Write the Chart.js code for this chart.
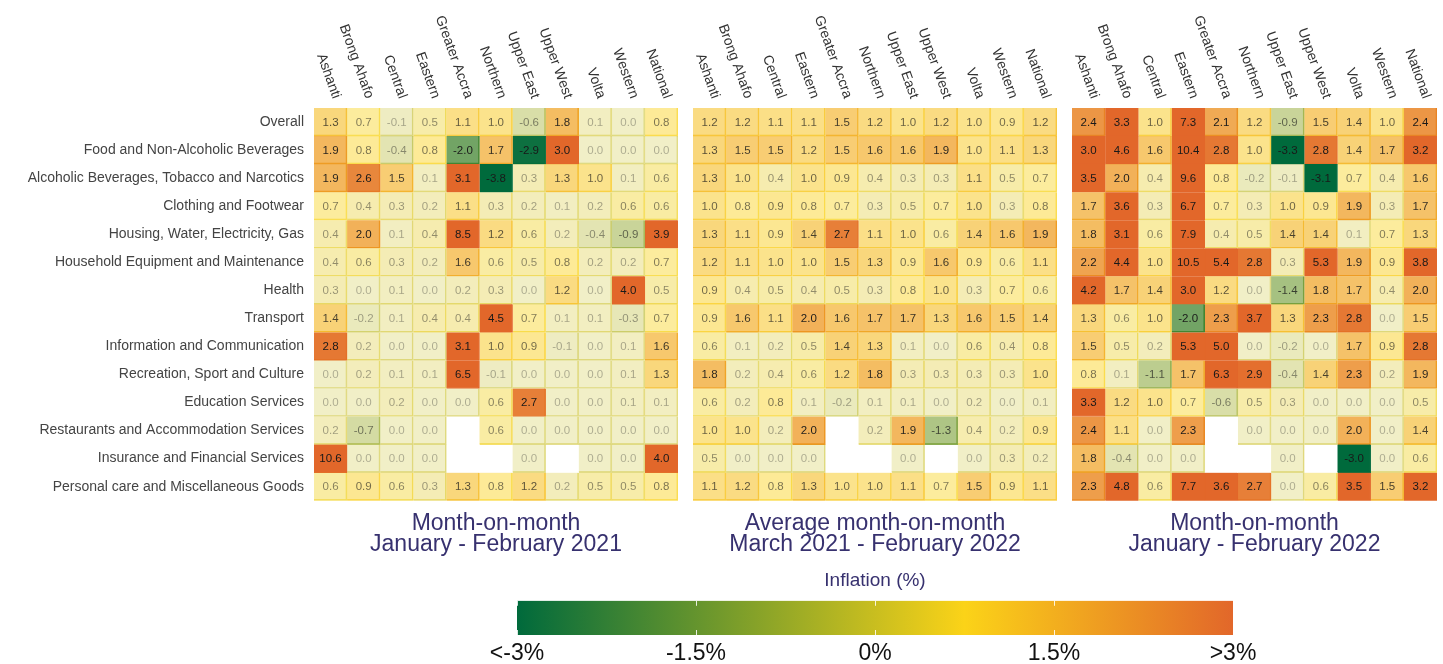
<!DOCTYPE html>
<html>
<head>
<meta charset="utf-8">
<script src="https://cdn.jsdelivr.net/npm/chart.js@4.4.1/dist/chart.umd.min.js"></script>
<style>
  body { margin: 0; background: #fff; width: 1443px; height: 664px; overflow: hidden; position: relative; }
  .box { position: absolute; }
</style>
</head>
<body>
<div class="box" style="left:0;top:0;width:682px;height:560px"><canvas id="p1"></canvas></div>
<div class="box" style="left:682px;top:0;width:380px;height:560px"><canvas id="p2"></canvas></div>
<div class="box" style="left:1062px;top:0;width:381px;height:560px"><canvas id="p3"></canvas></div>
<div class="box" style="left:480px;top:560px;width:800px;height:104px"><canvas id="legend"></canvas></div>
<script>
const regions = ['Ashanti', 'Brong Ahafo', 'Central', 'Eastern', 'Greater Accra', 'Northern',
  'Upper East', 'Upper West', 'Volta', 'Western', 'National'];

const categories = ['Overall', 'Food and Non-Alcoholic Beverages', 'Alcoholic Beverages, Tobacco and Narcotics',
  'Clothing and Footwear', 'Housing, Water, Electricity, Gas', 'Household Equipment and Maintenance',
  'Health', 'Transport', 'Information and Communication', 'Recreation, Sport and Culture',
  'Education Services', 'Restaurants and Accommodation Services', 'Insurance and Financial Services',
  'Personal care and Miscellaneous Goods'];

// month-on-month, Jan - Feb 2021 (rows = categories, cols = regions)
const mom2021 = [
  [1.3, 0.7, -0.1, 0.5, 1.1, 1.0, -0.6, 1.8, 0.1, 0.0, 0.8],
  [1.9, 0.8, -0.4, 0.8, -2.0, 1.7, -2.9, 3.0, 0.0, 0.0, 0.0],
  [1.9, 2.6, 1.5, 0.1, 3.1, -3.8, 0.3, 1.3, 1.0, 0.1, 0.6],
  [0.7, 0.4, 0.3, 0.2, 1.1, 0.3, 0.2, 0.1, 0.2, 0.6, 0.6],
  [0.4, 2.0, 0.1, 0.4, 8.5, 1.2, 0.6, 0.2, -0.4, -0.9, 3.9],
  [0.4, 0.6, 0.3, 0.2, 1.6, 0.6, 0.5, 0.8, 0.2, 0.2, 0.7],
  [0.3, 0.0, 0.1, 0.0, 0.2, 0.3, 0.0, 1.2, 0.0, 4.0, 0.5],
  [1.4, -0.2, 0.1, 0.4, 0.4, 4.5, 0.7, 0.1, 0.1, -0.3, 0.7],
  [2.8, 0.2, 0.0, 0.0, 3.1, 1.0, 0.9, -0.1, 0.0, 0.1, 1.6],
  [0.0, 0.2, 0.1, 0.1, 6.5, -0.1, 0.0, 0.0, 0.0, 0.1, 1.3],
  [0.0, 0.0, 0.2, 0.0, 0.0, 0.6, 2.7, 0.0, 0.0, 0.1, 0.1],
  [0.2, -0.7, 0.0, 0.0, null, 0.6, 0.0, 0.0, 0.0, 0.0, 0.0],
  [10.6, 0.0, 0.0, 0.0, null, null, 0.0, null, 0.0, 0.0, 4.0],
  [0.6, 0.9, 0.6, 0.3, 1.3, 0.8, 1.2, 0.2, 0.5, 0.5, 0.8]
];

// average month-on-month, Mar 2021 - Feb 2022
const avgMom = [
  [1.2, 1.2, 1.1, 1.1, 1.5, 1.2, 1.0, 1.2, 1.0, 0.9, 1.2],
  [1.3, 1.5, 1.5, 1.2, 1.5, 1.6, 1.6, 1.9, 1.0, 1.1, 1.3],
  [1.3, 1.0, 0.4, 1.0, 0.9, 0.4, 0.3, 0.3, 1.1, 0.5, 0.7],
  [1.0, 0.8, 0.9, 0.8, 0.7, 0.3, 0.5, 0.7, 1.0, 0.3, 0.8],
  [1.3, 1.1, 0.9, 1.4, 2.7, 1.1, 1.0, 0.6, 1.4, 1.6, 1.9],
  [1.2, 1.1, 1.0, 1.0, 1.5, 1.3, 0.9, 1.6, 0.9, 0.6, 1.1],
  [0.9, 0.4, 0.5, 0.4, 0.5, 0.3, 0.8, 1.0, 0.3, 0.7, 0.6],
  [0.9, 1.6, 1.1, 2.0, 1.6, 1.7, 1.7, 1.3, 1.6, 1.5, 1.4],
  [0.6, 0.1, 0.2, 0.5, 1.4, 1.3, 0.1, 0.0, 0.6, 0.4, 0.8],
  [1.8, 0.2, 0.4, 0.6, 1.2, 1.8, 0.3, 0.3, 0.3, 0.3, 1.0],
  [0.6, 0.2, 0.8, 0.1, -0.2, 0.1, 0.1, 0.0, 0.2, 0.0, 0.1],
  [1.0, 1.0, 0.2, 2.0, null, 0.2, 1.9, -1.3, 0.4, 0.2, 0.9],
  [0.5, 0.0, 0.0, 0.0, null, null, 0.0, null, 0.0, 0.3, 0.2],
  [1.1, 1.2, 0.8, 1.3, 1.0, 1.0, 1.1, 0.7, 1.5, 0.9, 1.1]
];

// month-on-month, Jan - Feb 2022
const mom2022 = [
  [2.4, 3.3, 1.0, 7.3, 2.1, 1.2, -0.9, 1.5, 1.4, 1.0, 2.4],
  [3.0, 4.6, 1.6, 10.4, 2.8, 1.0, -3.3, 2.8, 1.4, 1.7, 3.2],
  [3.5, 2.0, 0.4, 9.6, 0.8, -0.2, -0.1, -3.1, 0.7, 0.4, 1.6],
  [1.7, 3.6, 0.3, 6.7, 0.7, 0.3, 1.0, 0.9, 1.9, 0.3, 1.7],
  [1.8, 3.1, 0.6, 7.9, 0.4, 0.5, 1.4, 1.4, 0.1, 0.7, 1.3],
  [2.2, 4.4, 1.0, 10.5, 5.4, 2.8, 0.3, 5.3, 1.9, 0.9, 3.8],
  [4.2, 1.7, 1.4, 3.0, 1.2, 0.0, -1.4, 1.8, 1.7, 0.4, 2.0],
  [1.3, 0.6, 1.0, -2.0, 2.3, 3.7, 1.3, 2.3, 2.8, 0.0, 1.5],
  [1.5, 0.5, 0.2, 5.3, 5.0, 0.0, -0.2, 0.0, 1.7, 0.9, 2.8],
  [0.8, 0.1, -1.1, 1.7, 6.3, 2.9, -0.4, 1.4, 2.3, 0.2, 1.9],
  [3.3, 1.2, 1.0, 0.7, -0.6, 0.5, 0.3, 0.0, 0.0, 0.0, 0.5],
  [2.4, 1.1, 0.0, 2.3, null, 0.0, 0.0, 0.0, 2.0, 0.0, 1.4],
  [1.8, -0.4, 0.0, 0.0, null, null, 0.0, null, -3.0, 0.0, 0.6],
  [2.3, 4.8, 0.6, 7.7, 3.6, 2.7, 0.0, 0.6, 3.5, 1.5, 3.2]
];

const titles1 = ['Month-on-month', 'January - February 2021'];
const titles2 = ['Average month-on-month', 'March 2021 - February 2022'];
const titles3 = ['Month-on-month', 'January - February 2022'];

const legendTicks = [-3, -1.5, 0, 1.5, 3];
const legendLabels = ['<-3%', '-1.5%', '0%', '1.5%', '>3%'];

const FONT = '"Liberation Sans", Arial, sans-serif';
Chart.defaults.font.family = FONT;

// colour ramp: green -> yellow -> orange
const ramp = [[-3, [0, 106, 60]], [0.75, [251, 211, 24]], [3, [226, 103, 42]]];

function rampRgb(v) {
  v = Math.max(-3, Math.min(3, v));
  for (let i = 0; i < ramp.length - 1; i++) {
    const [v0, c0] = ramp[i], [v1, c1] = ramp[i + 1];
    if (v <= v1) {
      const t = (v - v0) / (v1 - v0);
      return c0.map((c, k) => Math.round(c + (c1[k] - c) * t));
    }
  }
  return ramp[ramp.length - 1][1];
}
const cellAlpha = v => Math.min(1, 0.25 + 0.25 * Math.abs(v));
const fillFor = v => `rgba(${rampRgb(v).join(',')},${cellAlpha(v)})`;
const edgeFor = v => `rgba(${rampRgb(v).join(',')},${Math.min(1, cellAlpha(v) + 0.25)})`;
const textFor = v => `rgba(25,25,25,${Math.min(1, 0.32 + 0.33 * Math.abs(v))})`;

const cellLabels = {
  id: 'cellLabels',
  afterDatasetsDraw(chart) {
    const ctx = chart.ctx;
    ctx.save();
    ctx.font = '11.5px ' + FONT;
    ctx.textAlign = 'center';
    ctx.textBaseline = 'middle';
    chart.data.datasets.forEach((ds, c) => {
      chart.getDatasetMeta(c).data.forEach((el, r) => {
        const v = ds.vals[r];
        if (v == null) return;
        const p = el.getCenterPoint();
        ctx.fillStyle = textFor(v);
        ctx.fillText(v.toFixed(1), p.x, p.y + 0.5);
      });
    });
    ctx.restore();
  }
};

const regionLabels = {
  id: 'regionLabels',
  afterDraw(chart) {
    const ctx = chart.ctx, x = chart.scales.x, top = chart.chartArea.top;
    ctx.save();
    ctx.font = '14px ' + FONT;
    ctx.fillStyle = '#333';
    ctx.textAlign = 'right';
    ctx.textBaseline = 'middle';
    regions.forEach((r, i) => {
      ctx.save();
      ctx.translate(x.getPixelForValue(i + 0.5) + 6, top - 10);
      ctx.rotate(70 * Math.PI / 180);
      ctx.fillText(r, 0, 0);
      ctx.restore();
    });
    ctx.restore();
  }
};

function heatmap(id, rows, titles, padLeft, padRight, showRows) {
  const datasets = regions.map((reg, c) => ({
    label: reg,
    vals: rows.map(row => row[c]),
    data: rows.map(row => row[c] == null ? null : [c, c + 1]),
    backgroundColor: rows.map(row => row[c] == null ? 'transparent' : fillFor(row[c])),
    borderColor: rows.map(row => row[c] == null ? 'transparent' : edgeFor(row[c]))
  }));
  return new Chart(document.getElementById(id), {
    type: 'bar',
    data: { labels: categories, datasets },
    options: {
      indexAxis: 'y',
      animation: false,
      responsive: true,
      maintainAspectRatio: false,
      layout: { padding: { top: 108, left: padLeft, right: padRight, bottom: 1 } },
      datasets: {
        bar: {
          grouped: false, barPercentage: 1, categoryPercentage: 1,
          borderSkipped: false, borderWidth: { top: 0, left: 0, right: 1, bottom: 1 }
        }
      },
      scales: {
        x: { type: 'linear', min: 0, max: regions.length, display: false },
        y: {
          type: 'category', display: showRows,
          grid: { display: false, drawTicks: false }, border: { display: false },
          ticks: { font: { size: 14 }, color: '#444', padding: 10 },
          afterFit: s => { s.width = showRows ? 314 : 0; }
        }
      },
      plugins: {
        legend: { display: false },
        tooltip: { enabled: false },
        title: {
          display: true, position: 'bottom', fullSize: false, text: titles,
          color: '#37316f', font: { size: 23, weight: 'normal', lineHeight: 0.92 },
          padding: { top: 12, bottom: 4 }
        }
      }
    },
    plugins: [cellLabels, regionLabels]
  });
}

heatmap('p1', mom2021, titles1, 0, 4, true);
heatmap('p2', avgMom, titles2, 11, 5, false);
heatmap('p3', mom2022, titles3, 10, 6, false);

const tickMarks = {
  id: 'tickMarks',
  afterDatasetsDraw(chart) {
    const ctx = chart.ctx, s = chart.scales.x, a = chart.chartArea;
    ctx.save();
    ctx.strokeStyle = 'rgba(255,255,255,0.85)';
    ctx.lineWidth = 1;
    legendTicks.forEach(v => {
      const px = Math.round(s.getPixelForValue(v)) + 0.5;
      ctx.beginPath();
      ctx.moveTo(px, a.top); ctx.lineTo(px, a.top + 5);
      ctx.moveTo(px, a.bottom - 5); ctx.lineTo(px, a.bottom);
      ctx.stroke();
    });
    ctx.restore();
  }
};

new Chart(document.getElementById('legend'), {
  type: 'bar',
  data: {
    labels: [''],
    datasets: [{
      data: [[legendTicks[0], legendTicks[legendTicks.length - 1]]],
      backgroundColor: c => {
        const a = c.chart.chartArea;
        if (!a) return '#ddd';
        const g = c.chart.ctx.createLinearGradient(a.left, 0, a.right, 0);
        ramp.forEach(([v, rgb]) => g.addColorStop((v + 3) / 6, `rgb(${rgb.join(',')})`));
        return g;
      },
      barPercentage: 1, categoryPercentage: 1, borderWidth: 0
    }]
  },
  options: {
    indexAxis: 'y',
    animation: false,
    responsive: true,
    maintainAspectRatio: false,
    layout: { padding: { left: 37, right: 47, top: 0, bottom: 0 } },
    scales: {
      x: {
        type: 'linear', min: -3, max: 3,
        grid: { display: false, drawTicks: false }, border: { display: false },
        afterBuildTicks: s => { s.ticks = legendTicks.map(v => ({ value: v })); },
        ticks: {
          callback: (v, i) => legendLabels[i], font: { size: 23 }, color: '#111',
          padding: 5, maxRotation: 0, autoSkip: false
        },
        afterFit: s => { s.height = 29; }
      },
      y: { display: false }
    },
    plugins: {
      legend: { display: false },
      tooltip: { enabled: false },
      title: {
        display: true, text: 'Inflation (%)', fullSize: false, color: '#37316f',
        font: { size: 19, weight: 'normal', lineHeight: 1.2 }, padding: { top: 9, bottom: 9 }
      }
    }
  },
  plugins: [tickMarks]
});
</script>
</body>
</html>
